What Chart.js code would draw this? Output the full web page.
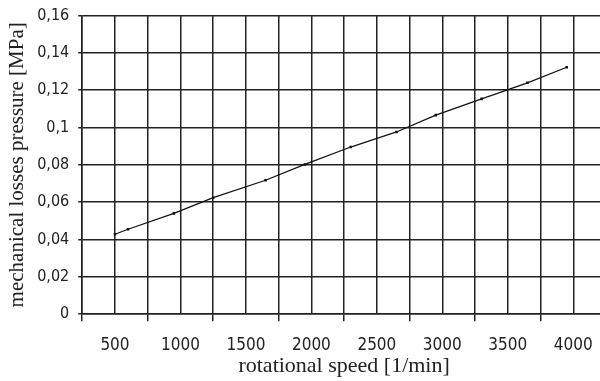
<!DOCTYPE html>
<html lang="en">

<head>
    <meta charset="utf8" />
    <script src="https://cdnjs.cloudflare.com/ajax/libs/Chart.js/4.4.1/chart.umd.min.js"></script>
    <title>Mechanical losses</title>
    <style>
        html, body {
            margin: 0;
            padding: 0;
            background: #fff;
            overflow: hidden;
        }

        #wrap {
            width: 620px;
            height: 381px;
        }
    </style>
</head>

<body>
    <div id="wrap">
        <canvas id="lossChart" width="620" height="381"></canvas>
    </div>

    <script>
        // values
        const speed = [500, 600, 950, 1250, 1650, 1950, 2300, 2650, 2950, 3300, 3650, 3950];
        const pressure = [0.0428, 0.0455, 0.054, 0.0624, 0.0717, 0.0802, 0.0895, 0.0976, 0.1066, 0.1153, 0.1239, 0.1322];

        // axis settings
        const xMin = 250, xMax = 4250, xStep = 250;
        const xLabels = [500, 1000, 1500, 2000, 2500, 3000, 3500, 4000];
        const yMin = 0, yMax = 0.16, yStep = 0.02;

        const narrow = '"Liberation Sans Narrow", "DejaVu Sans Condensed", sans-serif';
        const serif = '"Liberation Serif", "DejaVu Serif", serif';
        const gridColor = '#222';

        function commaNumber(v) {
            return parseFloat(v.toFixed(2)).toString().replace('.', ',');
        }

        const ctx = document.getElementById('lossChart').getContext('2d');

        new Chart(ctx, {
            type: 'line',
            data: {
                datasets: [{
                    label: 'mechanical losses pressure',
                    data: speed.map((s, i) => ({ x: s, y: pressure[i] })),
                    borderColor: '#111',
                    borderWidth: 1.2,
                    pointStyle: 'rect',
                    pointRadius: 1.8,
                    pointBackgroundColor: '#111',
                    pointBorderWidth: 0,
                    tension: 0
                }]
            },
            options: {
                responsive: false,
                animation: false,
                layout: {
                    padding: { top: 14, right: 6, bottom: 0, left: 5 }
                },
                plugins: {
                    legend: { display: false },
                    tooltip: { enabled: false }
                },
                scales: {
                    x: {
                        type: 'linear',
                        min: xMin,
                        max: xMax,
                        afterBuildTicks: axis => {
                            const ticks = [];
                            for (let v = xMin; v <= xMax; v += xStep) ticks.push({ value: v });
                            axis.ticks = ticks;
                        },
                        border: { color: gridColor, width: 1.5 },
                        grid: {
                            color: gridColor,
                            lineWidth: 1.5,
                            tickLength: 7,
                            tickColor: c => ((c.tick.value - xMin) % 500 === 0 ? gridColor : 'rgba(0,0,0,0)')
                        },
                        ticks: {
                            autoSkip: false,
                            maxRotation: 0,
                            color: '#222',
                            font: { family: narrow, size: 17 },
                            padding: 14,
                            callback: v => (xLabels.includes(v) ? String(v) : '')
                        },
                        title: {
                            display: true,
                            text: 'rotational speed [1/min]',
                            color: '#222',
                            font: { family: serif, size: 22 },
                            padding: { top: -17, bottom: 2 }
                        }
                    },
                    y: {
                        min: yMin,
                        max: yMax,
                        border: { color: gridColor, width: 1.5 },
                        grid: {
                            color: gridColor,
                            lineWidth: 1.5,
                            tickLength: 4
                        },
                        ticks: {
                            stepSize: yStep,
                            color: '#222',
                            font: { family: narrow, size: 16, lineHeight: 0.8 },
                            padding: 9,
                            callback: v => commaNumber(v)
                        },
                        title: {
                            display: true,
                            text: 'mechanical losses pressure [MPa]',
                            color: '#222',
                            font: { family: serif, size: 21 },
                            padding: { top: 0, bottom: -2 }
                        }
                    }
                }
            }
        });
    </script>
</body>

</html>
